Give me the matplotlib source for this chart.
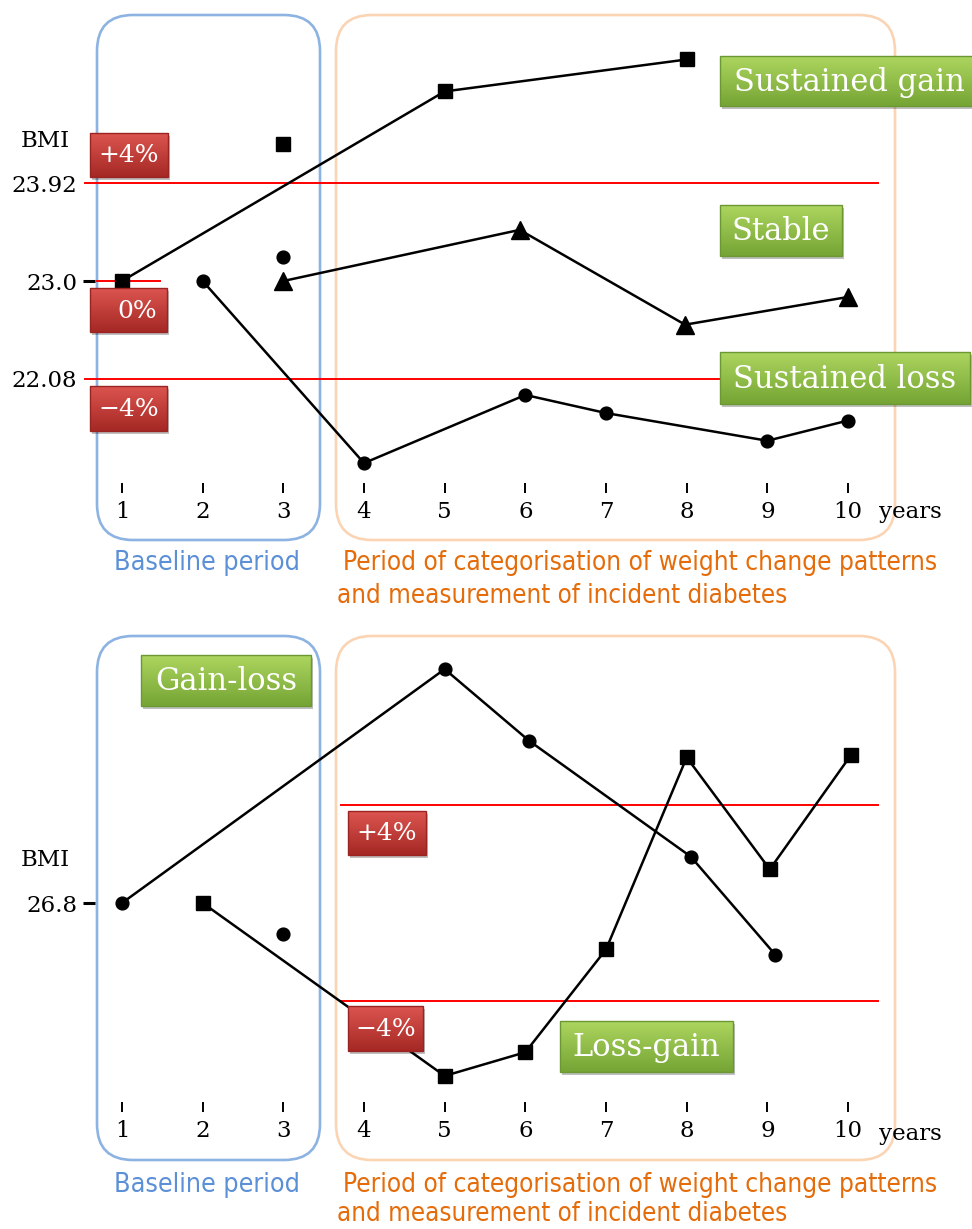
import matplotlib
matplotlib.use("Agg")
import matplotlib.pyplot as plt
import numpy as np
from matplotlib.patches import FancyBboxPatch, Rectangle
from matplotlib.colors import LinearSegmentedColormap
from matplotlib import font_manager

# ---------------- data ----------------
years = [1, 2, 3, 4, 5, 6, 7, 8, 9, 10]
year_labels = ["1", "2", "3", "4", "5", "6", "7", "8", "9", "10"]

top_ref = 23.0
top_ticks = [23.92, 23.0, 22.08]
top_tick_labels = ["23.92", "23.0", "22.08"]
top_thresholds = [23.92, 22.08]

gain_years = [1, 5, 8]
gain_bmi = [23.0, 24.78, 25.08]
gain_extra_year = [3]
gain_extra_bmi = [24.29]

stable_years = [3, 5.93, 7.98, 10]
stable_bmi = [23.0, 23.48, 22.59, 22.85]
stable_extra_year = [3]
stable_extra_bmi = [23.23]

loss_years = [2, 4, 6, 7, 9, 10]
loss_bmi = [23.0, 21.29, 21.93, 21.76, 21.50, 21.69]

bot_ref = 26.8
bot_ticks = [26.8]
bot_tick_labels = ["26.8"]
bot_thresholds = [27.872, 25.728]

gl_years = [1, 5, 6.05, 8.05, 9.1]
gl_bmi = [26.8, 29.37, 28.58, 27.31, 26.23]
gl_extra_year = [3]
gl_extra_bmi = [26.46]

lg_years = [2, 5, 6, 7, 8, 9.03, 10.04]
lg_bmi = [26.8, 24.90, 25.16, 26.29, 28.40, 27.17, 28.43]

# ---------------- style ----------------
plt.rcParams["font.family"] = ["DejaVu Serif"]
names = {f.name for f in font_manager.fontManager.ttflist}
cap_font = "Liberation Sans Narrow" if "Liberation Sans Narrow" in names else "DejaVu Sans"
cap_stretch = "normal" if cap_font == "Liberation Sans Narrow" else "condensed"

W, H = 972, 1229
fig = plt.figure(figsize=(W / 100, H / 100), dpi=100)


def frect(px0, py0, px1, py1):
    return [px0 / W, 1 - py1 / H, (px1 - px0) / W, (py1 - py0) / H]


X0PX, DXPX = 122.0, 80.67


def xlim_years():
    return (1 + (0 - X0PX) / DXPX, 1 + (W - X0PX) / DXPX)


# background pixel axes
bg = fig.add_axes([0, 0, 1, 1], zorder=0)
ov = fig.add_axes([0, 0, 1, 1], zorder=5)
for a in (bg, ov):
    a.set_axis_off()
    a.patch.set_visible(False)

# data axes
panels = [
    dict(py0=0, py1=614, pyref=281, scale=106.5, ref=top_ref, tickpy=493),
    dict(py0=614, py1=1229, pyref=903, scale=91.0, ref=bot_ref, tickpy=1112),
]
LBL = 16.5
axes = []
for p in panels:
    ax = fig.add_axes(frect(0, p["py0"], W, p["py1"]), zorder=2)
    ax.patch.set_visible(False)
    ax.set_xlim(*xlim_years())
    lo = p["ref"] + (p["pyref"] - p["py1"]) / p["scale"]
    hi = p["ref"] + (p["pyref"] - p["py0"]) / p["scale"]
    ax.set_ylim(lo, hi)
    for s in ax.spines.values():
        s.set_color("none")
    ax.spines["bottom"].set_position(("data", p["ref"] + (p["pyref"] - p["tickpy"]) / p["scale"]))
    ax.spines["left"].set_position(("axes", 95 / W))
    ax.set_xticks(years)
    ax.set_xticklabels(year_labels)
    ax.tick_params(axis="x", direction="in", length=7, width=1.4, pad=6, labelsize=LBL)
    axes.append(ax)

ax1, ax2 = axes

ax1.set_yticks(top_ticks)
ax1.set_yticklabels(top_tick_labels)
ax2.set_yticks(bot_ticks)
ax2.set_yticklabels(bot_tick_labels)
for ax, ticks, ref in ((ax1, top_ticks, top_ref), (ax2, bot_ticks, bot_ref)):
    ax.tick_params(axis="y", direction="out", length=8.5, width=2.2, pad=4.5, labelsize=LBL)
    for t, v in zip(ax.yaxis.get_major_ticks(), ticks):
        if v != ref:
            t.tick1line.set_visible(False)

# threshold lines
for v in top_thresholds:
    ax1.axhline(v, xmin=85 / W, xmax=878 / W, color="#ff0000", lw=1.4, zorder=1)
ax1.axhline(top_ref, xmin=97 / W, xmax=160 / W, color="#ff0000", lw=1.4, zorder=1)
for v in bot_thresholds:
    ax2.axhline(v, xmin=341 / W, xmax=878 / W, color="#ff0000", lw=1.4, zorder=1)

lk = dict(color="black", lw=1.8, zorder=3)
MS_S, MS_O, MS_T = 9.8, 9.2, 13
ax1.plot(gain_years, gain_bmi, marker="s", ms=MS_S, **lk)
ax1.plot(gain_extra_year, gain_extra_bmi, marker="s", ms=MS_S, ls="none", color="black", zorder=3)
ax1.plot(stable_years, stable_bmi, marker="^", ms=MS_T, **lk)
ax1.plot(stable_extra_year, stable_extra_bmi, marker="o", ms=MS_O, ls="none", color="black", zorder=3)
ax1.plot(loss_years, loss_bmi, marker="o", ms=MS_O, **lk)

ax2.plot(gl_years, gl_bmi, marker="o", ms=MS_O, **lk)
ax2.plot(gl_extra_year, gl_extra_bmi, marker="o", ms=MS_O, ls="none", color="black", zorder=3)
ax2.plot(lg_years, lg_bmi, marker="s", ms=MS_S, **lk)

bg.text(45, 141, "BMI", ha="center", va="center", fontsize=LBL)
bg.text(45, 860, "BMI", ha="center", va="center", fontsize=LBL)
bg.text(910, 512, "years", ha="center", va="center", fontsize=LBL)
bg.text(910, 1134, "years", ha="center", va="center", fontsize=LBL)

# rounded period boxes
BLUE_EDGE = "#8db3e2"
ORANGE_EDGE = "#fbd4b4"
for y0, y1 in ((15, 540), (636, 1160)):
    bg.add_patch(FancyBboxPatch((97, y0), 223, y1 - y0, boxstyle="round,pad=0,rounding_size=36",
                                fc="none", ec=BLUE_EDGE, lw=1.9))
    bg.add_patch(FancyBboxPatch((336, y0), 559, y1 - y0, boxstyle="round,pad=0,rounding_size=36",
                                fc="none", ec=ORANGE_EDGE, lw=1.9))

# captions
caps = []
for yc, gap in ((563, 33), (1185, 29)):
    kw = dict(va="center", fontsize=20, family=cap_font, stretch=cap_stretch)
    c1 = bg.text(207, yc, "Baseline period", ha="center", color="#5b8fd6", **kw)
    c2 = bg.text(343, yc, "Period of categorisation of weight change patterns", ha="left",
                 color="#e46c0a", **kw)
    c3 = bg.text(337, yc + gap, "and measurement of incident diabetes", ha="left",
                 color="#e46c0a", **kw)
    caps.append((c1, c2, c3))

fig.canvas.draw()
rend = fig.canvas.get_renderer()
for c1, c2, c3 in caps:
    for t, target in ((c1, 186), (c2, 595), (c3, 450)):
        w = t.get_window_extent(rend).width
        t.set_fontsize(t.get_fontsize() * target / w)


def grad_box(x0, y0, x1, y1, top, bot, edge, text, size, tx=None):
    ov.add_patch(Rectangle((x0 + 2, y0 + 3), x1 - x0, y1 - y0, fc="#000000", alpha=0.25, lw=0, zorder=1))
    cmap = LinearSegmentedColormap.from_list("g", [top, bot])
    grad = np.linspace(0, 1, 64)[:, None]
    im = ov.imshow(grad, extent=(x0, x1, y1, y0), origin="upper", cmap=cmap, aspect="auto",
                   zorder=2, interpolation="bilinear")
    rect = Rectangle((x0, y0), x1 - x0, y1 - y0, fc="none", ec=edge, lw=1.0, zorder=3)
    ov.add_patch(rect)
    im.set_clip_path(rect)
    ov.text((x0 + x1) / 2 if tx is None else tx, (y0 + y1) / 2 + 1, text, ha="center", va="center",
            color="white", fontsize=size, zorder=4)


GT, GB, GE = "#acd55e", "#76a535", "#6b9833"
RT, RB, RE = "#dc5550", "#a52824", "#9a2422"
GS = 22

grad_box(720, 56, 980, 106, GT, GB, GE, "Sustained gain", GS, tx=849)
grad_box(720, 205, 842, 256, GT, GB, GE, "Stable", GS)
grad_box(720, 352, 970, 404, GT, GB, GE, "Sustained loss", GS)
grad_box(141, 655, 311, 706, GT, GB, GE, "Gain-loss", GS)
grad_box(560, 1021, 733, 1072, GT, GB, GE, "Loss-gain", GS)

grad_box(90, 133, 168, 177, RT, RB, RE, "+4%", 18)
grad_box(90, 288, 167, 332, RT, RB, RE, "0%", 18, tx=137)
grad_box(90, 386, 167, 431, RT, RB, RE, "\u22124%", 18)
grad_box(348, 811, 426, 855, RT, RB, RE, "+4%", 18)
grad_box(348, 1006, 423, 1051, RT, RB, RE, "\u22124%", 18)

for a in (bg, ov):
    a.set_xlim(0, W)
    a.set_ylim(H, 0)

fig.savefig("out.png", dpi=100)
